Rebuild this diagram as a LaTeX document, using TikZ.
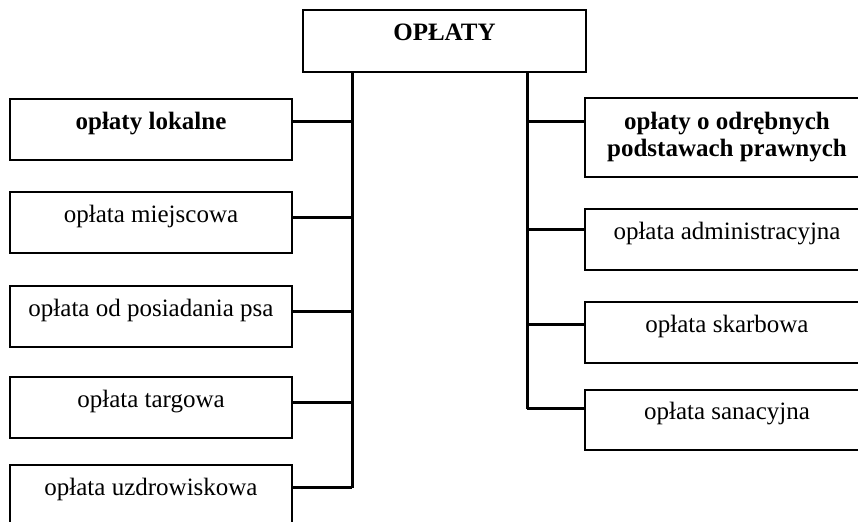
\documentclass[tikz,border=0pt]{standalone}
\usepackage{fontspec}
\setmainfont{Liberation Serif}
\usetikzlibrary{positioning, calc}

\begin{document}
\begin{tikzpicture}[x=0.5pt, y=-0.5pt,
		feebox/.style={draw, line width=0.6pt, inner sep=0pt, minimum width=141pt, minimum height=30.5pt,
			font=\fontsize{12.5}{13.5}\selectfont, align=center},
		oneline/.style={text height=9pt, text depth=9pt},
		branch/.style={line width=1.5pt}]
	\useasboundingbox (0,0) rectangle (858,522);
	\clip (0,0) rectangle (858,522);

	% Root node
	\node[feebox, oneline, minimum width=141.5pt, minimum height=31pt, font=\fontsize{12.5}{13.5}\selectfont\bfseries] (oplaty) at (444.5,41) {OPŁATY};

	% Nodes for the left column
	\node[feebox, oneline, font=\fontsize{12.5}{13.5}\selectfont\bfseries] (lokalne) at (151,129.5) {opłaty lokalne};
	\node[feebox, oneline] (miejscowa) at (151,222.5) {opłata miejscowa};
	\node[feebox, oneline] (psa) at (151,316.5) {opłata od posiadania psa};
	\node[feebox, oneline] (targowa) at (151,407.5) {opłata targowa};
	\node[feebox, oneline] (uzdrowiskowa) at (151,495.5) {opłata uzdrowiskowa};

	% Nodes for the right column
	\node[feebox, minimum width=142pt, minimum height=39.5pt, font=\fontsize{12.5}{13.5}\selectfont\bfseries] (odrebne) at (727,137.5) {opłaty o odrębnych\\podstawach prawnych};
	\node[feebox, oneline, minimum width=142pt] (administracyjna) at (727,239.5) {opłata administracyjna};
	\node[feebox, oneline, minimum width=142pt] (skarbowa) at (727,332.5) {opłata skarbowa};
	\node[feebox, oneline, minimum width=142pt, minimum height=30pt] (sanacyjna) at (727,420) {opłata sanacyjna};

	% Junctions on the two trunks
	\coordinate (jL1) at (352,122);
	\coordinate (jL2) at (352,218);
	\coordinate (jL3) at (352,312);
	\coordinate (jL4) at (352,403);
	\coordinate (jL5) at (352,488);
	\coordinate (jR1) at (527,122);
	\coordinate (jR2) at (527,230);
	\coordinate (jR3) at (527,325);
	\coordinate (jR4) at (527,409);

	% Trunks
	\draw[branch] (oplaty.south -| jL1) -- (jL5);
	\draw[branch] (oplaty.south -| jR1) -- (jR4);

	% Branches to the left column
	\draw[branch] (lokalne.east |- jL1) -- (jL1);
	\draw[branch] (miejscowa.east |- jL2) -- (jL2);
	\draw[branch] (psa.east |- jL3) -- (jL3);
	\draw[branch] (targowa.east |- jL4) -- (jL4);
	\draw[branch] (uzdrowiskowa.east |- jL5) -- (jL5);

	% Branches to the right column
	\draw[branch] (jR1) -- (odrebne.west |- jR1);
	\draw[branch] (jR2) -- (administracyjna.west |- jR2);
	\draw[branch] (jR3) -- (skarbowa.west |- jR3);
	\draw[branch] (jR4) -- (sanacyjna.west |- jR4);
\end{tikzpicture}
\end{document}
